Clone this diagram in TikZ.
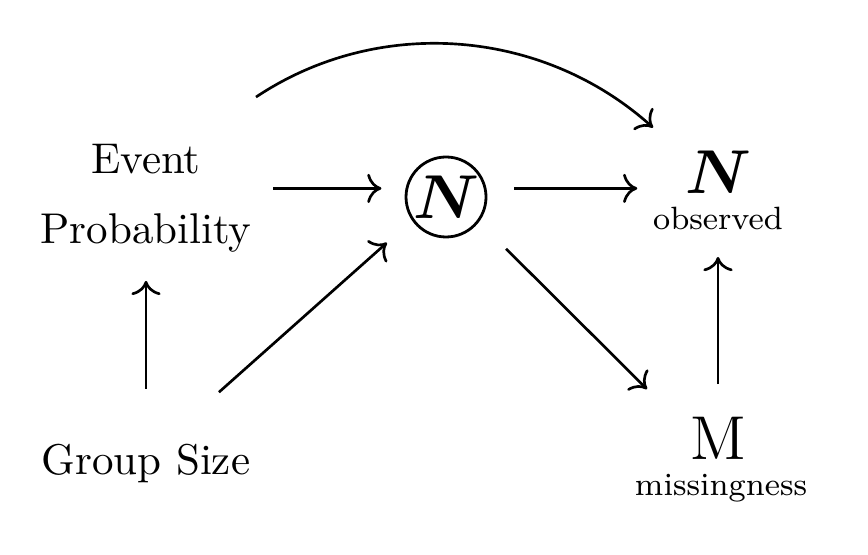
\documentclass[tikz,border=0pt]{standalone}
\usepackage{amsmath}
\usepackage{bm}
\usepackage{tikz}
\usetikzlibrary{arrows.meta}

\begin{document}
\begin{tikzpicture}[x=0.2325pt, y=-0.2325pt, every node/.style={inner sep=0pt},
    arr/.style={-{Computer Modern Rightarrow[length=3.3pt, width=6.8pt]}, line width=0.62pt},
    small/.style={font=\fontsize{7.5}{9}\selectfont}]
    \useasboundingbox (0,0) rectangle (868,554);
    \node[align=center] (ep) at (146,198) {Event\\[4.3pt]Probability};
    \node (gs) at (146,464) {Group Size};
    \node[draw, circle, minimum size=18.6pt, line width=0.65pt] (nn) at (446,197) {\Large$\bm{N}$}; % latent N
    \node[anchor=base] (nobs) at (718,194) {\Large$\bm{N}$}; % observed N
    \node[small, anchor=base] (ob) at (718,230) {observed};
    \node[anchor=base] (mm) at (718,459) {\Large M};
    \node[small, anchor=base] (mi) at (721,495) {missingness};
    \draw[arr, shorten <=4.9pt, shorten >=5.6pt] (ep.east |- nn.168) -- (nn.168);
    \draw[arr, shorten <=6.5pt, shorten >=3.5pt] (nn.12) -- (nn.12 -| ob.west);
    \draw[arr] ([shift={(110,-46)}]ep.north) .. controls +(123,-82) and +(-110,-99) .. ([shift={(-65,-23)}]nobs.north);
    \draw[arr, shorten <=12.8pt, shorten >=6.5pt] (gs.north) -- (ep.south);
    \draw[arr, shorten <=22.7pt, shorten >=18.4pt] ([yshift=1.6pt]gs.center) -- ([yshift=1.6pt]nn.center);
    \draw[arr, shorten <=19.7pt, shorten >=23.3pt] ([yshift=1.86pt]nn.center) -- (mm.south);
    \draw[arr, shorten <=7.4pt, shorten >=6pt] (mm.north) -- (ob.south);
\end{tikzpicture}
\end{document}
